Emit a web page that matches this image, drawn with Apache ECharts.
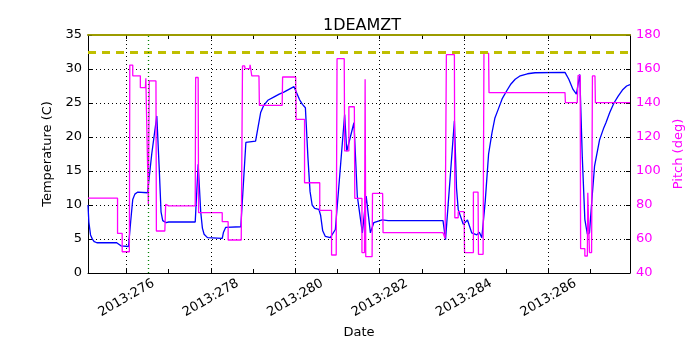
<!DOCTYPE html>
<html>
<head>
<meta charset="utf-8">
<title>1DEAMZT</title>
<script src="https://cdn.jsdelivr.net/npm/echarts@6/dist/echarts.min.js"></script>
<style>
  html, body { margin: 0; padding: 0; background: #fff; }
  #chart { width: 700px; height: 350px; }
</style>
</head>
<body>
<div id="chart"></div>
<script>
// x axis range (day of year 2013)
const dayMin = 275.09
const dayMax = 287.93
const tickDays = [276, 277, 278, 279, 280, 281, 282, 283, 284, 285, 286, 287]
const labelDays = [276, 278, 280, 282, 284, 286]

// temperature trace (C)
const tempDays = [
  275.09, 275.11, 275.15, 275.2, 275.24, 275.3, 275.77, 275.87, 276.05, 276.1,
  276.15, 276.2, 276.27, 276.5, 276.6, 276.72, 276.78, 276.82, 276.86, 276.94,
  277.0, 277.63, 277.7, 277.76, 277.8, 277.84, 277.92, 278.27, 278.3, 278.35,
  278.71, 278.83, 279.06, 279.18, 279.25, 279.35, 279.5, 279.62, 279.73, 279.85,
  279.97, 280.1, 280.17, 280.24, 280.3, 280.35, 280.4, 280.46, 280.56, 280.6,
  280.65, 280.71, 280.83, 280.95, 281.17, 281.22, 281.39, 281.47, 281.59, 281.68,
  281.78, 281.86, 282.06, 282.2, 283.5, 283.56, 283.77, 283.82, 283.86, 283.98,
  284.08, 284.18, 284.3, 284.36, 284.42, 284.5, 284.58, 284.66, 284.73, 284.81,
  284.9, 285.01, 285.11, 285.21, 285.33, 285.5, 285.68, 286.39, 286.48, 286.58,
  286.66, 286.74, 286.8, 286.86, 286.92, 286.97, 287.03, 287.09, 287.21, 287.3,
  287.36, 287.45, 287.55, 287.65, 287.75, 287.85, 287.93
]
const tempValues = [
  10.0, 7.5, 5.6, 4.9, 4.6, 4.45, 4.45, 4.0, 3.9, 7.5,
  10.8, 11.6, 11.9, 11.8, 17.5, 23.1, 15.0, 9.0, 7.7, 7.4,
  7.5, 7.5, 16.0, 9.0, 6.6, 5.7, 5.2, 5.1, 6.0, 6.7,
  6.8, 19.2, 19.4, 23.6, 24.6, 25.4, 25.9, 26.3, 26.6, 27.0,
  27.4, 25.5, 24.8, 24.3, 17.0, 12.0, 10.0, 9.5, 9.35, 8.5,
  6.2, 5.4, 5.2, 6.4, 23.3, 17.9, 22.1, 11.3, 5.9, 11.3,
  5.9, 7.4, 7.8, 7.7, 7.7, 4.9, 22.4, 12.5, 9.35, 7.15,
  7.8, 5.9, 5.6, 6.0, 5.2, 10.5, 17.5, 20.6, 22.8, 24.1,
  25.6, 26.8, 27.8, 28.5, 29.0, 29.3, 29.45, 29.5, 28.5, 27.0,
  26.3, 29.2, 17.0, 7.9, 5.7, 5.9, 11.0, 15.7, 19.6, 21.2,
  22.1, 23.6, 25.0, 26.0, 26.9, 27.5, 27.7
]

// pitch trace (deg)
const pitchDays = [
  275.09, 275.79, 275.79, 275.9, 275.9, 276.07, 276.08, 276.15, 276.15, 276.33,
  276.33, 276.45, 276.46, 276.5, 276.52, 276.54, 276.7, 276.71, 276.91, 276.93,
  277.0, 277.63, 277.64, 277.7, 277.71, 278.27, 278.27, 278.41, 278.41, 278.72,
  278.75, 278.8, 278.81, 278.92, 278.93, 278.96, 278.97, 279.14, 279.15, 279.69,
  279.7, 280.01, 280.02, 280.22, 280.22, 280.58, 280.58, 280.86, 280.86, 280.97,
  280.99, 281.16, 281.17, 281.27, 281.27, 281.4, 281.41, 281.58, 281.58, 281.64,
  281.655, 281.67, 281.82, 281.83, 282.07, 282.08, 283.5, 283.55, 283.56, 283.58,
  283.77, 283.78, 283.86, 283.86, 284.0, 284.01, 284.22, 284.22, 284.33, 284.34,
  284.45, 284.47, 284.58, 284.59, 286.39, 286.4, 286.68, 286.7, 286.75, 286.76,
  286.86, 286.86, 286.92, 286.93, 286.96, 286.97, 287.02, 287.04, 287.1, 287.11,
  287.93
]
const pitchValues = [
  84, 84, 63.3, 63.3, 52.5, 52.5, 162.3, 162.3, 156, 156,
  149, 149, 154.5, 154.5, 80.4, 153, 153, 64.7, 64.7, 80.4,
  79.5, 79.5, 155, 155, 75.5, 75.5, 70.2, 70.2, 59.4, 59.4,
  161.8, 161.8, 160.2, 160.2, 162.5, 162.5, 155.9, 155.9, 138.6, 138.6,
  155.3, 155.3, 130.4, 130.4, 93.1, 93.1, 76.8, 76.8, 50.6, 50.6,
  166.1, 166.1, 111.8, 111.8, 137.8, 137.8, 83.9, 83.9, 52, 52,
  153.9, 49.6, 49.6, 86.8, 86.8, 63.7, 63.7, 60.5, 60.5, 168.4,
  168.4, 72.5, 72.5, 76.1, 76.1, 52, 52, 87.6, 87.6, 51,
  51, 169.2, 169.2, 146.1, 146.1, 140.2, 140.2, 156.2, 156.2, 54.3,
  54.3, 50, 50, 87.2, 87.2, 52, 52, 155.9, 155.9, 140.2,
  140.2
]

const limitTemp = 32.5
const limitTop = 35
const markerDay = 276.52

const chart = echarts.init(document.getElementById('chart'))
const font = 'DejaVu Sans'
const dotted = { color: '#000', width: 1, type: [1, 3] }

const zip = (xs, ys) => xs.map((x, i) => [x, ys[i]])

const option = {
  animation: false,
  textStyle: { fontFamily: font },
  title: {
    text: '1DEAMZT',
    left: 318,
    top: 13,
    textStyle: { fontFamily: font, fontSize: 16, fontWeight: 'normal', color: '#000' }
  },
  grid: { left: 88, right: 70, top: 35, bottom: 77 },
  xAxis: [{
    type: 'value',
    min: dayMin,
    max: dayMax,
    name: 'Date',
    nameLocation: 'middle',
    nameGap: 53,
    nameTextStyle: { fontFamily: font, fontSize: 13, color: '#000' },
    axisLine: { onZero: false, lineStyle: { color: '#000', width: 1 } },
    axisTick: { inside: true, length: 4, customValues: tickDays, lineStyle: { color: '#000' } },
    axisLabel: {
      customValues: labelDays,
      rotate: 30,
      align: 'center',
      verticalAlign: 'middle',
      margin: 25,
      fontFamily: font,
      fontSize: 13,
      color: '#000',
      formatter: v => '2013:' + Math.round(v)
    },
    splitLine: { show: false }
  }, {
    type: 'value',
    position: 'top',
    min: dayMin,
    max: dayMax,
    axisLine: { onZero: false, lineStyle: { color: '#8f8f00', width: 2 } },
    axisTick: { inside: true, length: 4, customValues: tickDays, lineStyle: { color: '#000' } },
    axisLabel: { show: false },
    splitLine: { show: false }
  }],
  yAxis: [{
    type: 'value',
    min: 0,
    max: 35,
    interval: 5,
    name: 'Temperature (C)',
    nameLocation: 'middle',
    nameGap: 30,
    nameTextStyle: { fontFamily: font, fontSize: 13, color: '#000' },
    axisLine: { show: true, onZero: false, lineStyle: { color: '#000' } },
    axisTick: { show: true, inside: true, length: 4, lineStyle: { color: '#000' } },
    axisLabel: { fontFamily: font, fontSize: 13, color: '#000', margin: 6 },
    splitLine: { show: true, lineStyle: dotted }
  }, {
    type: 'value',
    position: 'right',
    min: 40,
    max: 180,
    interval: 20,
    name: 'Pitch (deg)',
    nameLocation: 'middle',
    nameGap: 40,
    nameRotate: 90,
    nameTextStyle: { fontFamily: font, fontSize: 13, color: '#ff00ff' },
    axisLine: { show: true, onZero: false, lineStyle: { color: '#000' } },
    axisTick: { show: true, inside: true, length: 4, lineStyle: { color: '#000' } },
    axisLabel: { fontFamily: font, fontSize: 13, color: '#ff00ff', margin: 6 },
    splitLine: { show: false }
  }],
  series: [
    {
      // vertical grid lines every 2 days
      type: 'line',
      z: 1,
      data: [[dayMin, 0]],
      showSymbol: false,
      lineStyle: { opacity: 0 },
      silent: true,
      markLine: {
        silent: true,
        symbol: ['none', 'none'],
        label: { show: false },
        lineStyle: dotted,
        data: labelDays.map(d => ({ xAxis: d }))
      }
    },
    {
      name: 'Temperature',
      type: 'line',
      z: 3,
      data: zip(tempDays, tempValues),
      showSymbol: false,
      lineStyle: { color: '#0000ff', width: 1.3 },
      itemStyle: { color: '#0000ff' }
    },
    {
      name: 'Pitch',
      type: 'line',
      z: 4,
      yAxisIndex: 1,
      data: zip(pitchDays, pitchValues),
      showSymbol: false,
      lineStyle: { color: '#ff00ff', width: 1.3 },
      itemStyle: { color: '#ff00ff' }
    },
    {
      // limits and marker
      type: 'line',
      z: 5,
      data: [[dayMin, 0]],
      showSymbol: false,
      lineStyle: { opacity: 0 },
      silent: true,
      markLine: {
        silent: true,
        symbol: ['none', 'none'],
        label: { show: false },
        data: [
          { yAxis: limitTemp, lineStyle: { color: '#bfbf00', width: 3, type: [8, 6] } },
          { yAxis: limitTop, lineStyle: { color: '#a0a000', width: 1.5, type: 'solid' } },
          { xAxis: markerDay, lineStyle: { color: '#008000', width: 1.3, type: [1, 3] } }
        ]
      }
    }
  ]
}

chart.setOption(option)
</script>
</body>
</html>
